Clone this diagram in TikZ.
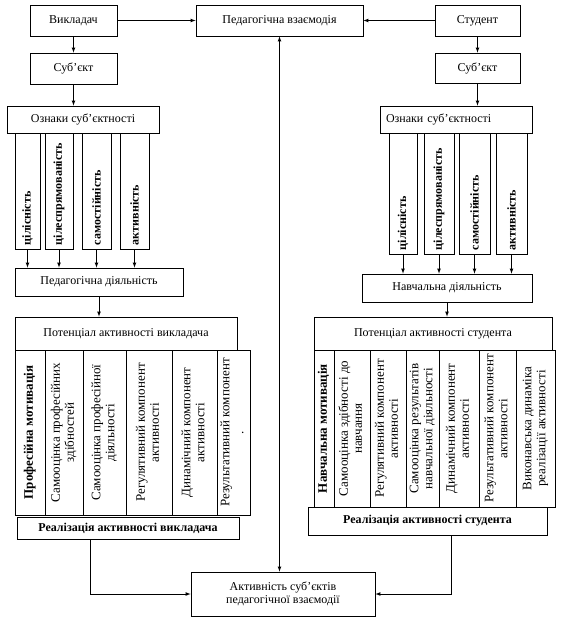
\documentclass[tikz,border=0pt]{standalone}
\usepackage{fontspec}
\setmainfont{Liberation Serif}
\usetikzlibrary{arrows}
\newcommand{\blok}[7][]{
  \node[blok, minimum width={(#5-#3)*1pt}, minimum height={(#6-#4)*1pt}, #1] (#2) at ({(#3+#5)/2},{(#4+#6)/2}) {#7};
}
\newcommand{\vt}[1]{\rotatebox{90}{\fontsize{13}{14}\selectfont\begin{tabular}{@{}c@{}}#1\end{tabular}}}
\newcommand{\vq}[2]{\rotatebox{90}{\makebox[#1pt][l]{\textbf{#2}}}}
\tikzset{
  blok/.style={draw, line width=0.8pt, inner sep=2pt, align=center, font=\fontsize{12}{13}\selectfont},
  kol/.style={inner sep=1pt},
  strilka/.style={-latex, line width=0.7pt}
}

\begin{document}
\begin{tikzpicture}[x=1pt, y=-1pt]
\useasboundingbox (0,0) rectangle (577,621);
% top row
\blok{vykl}{30}{5}{117}{36}{Викладач}
\blok{vzaem}{196}{5}{363}{36}{Педагогічна взаємодія}
\blok{stud}{435}{5}{520}{36}{Студент}
\blok{subL}{30}{53}{117}{84}{Суб’єкт}
\blok{subR}{435}{53}{520}{83}{Суб’єкт}
\blok{oznL}{7}{106}{159}{133}{Ознаки суб’єктності}
\blok[text width=140pt, align=left]{oznR}{380}{106}{532}{133}{Ознаки суб’єктності}
\blok{diyalL}{15}{268}{183}{296}{Педагогічна діяльність}
\blok{diyalR}{362}{274}{532}{302}{Навчальна діяльність}
\draw[strilka] (vykl) -- (vzaem);
\draw[strilka] (stud) -- (vzaem);
\draw[strilka] (vykl) -- (subL);
\draw[strilka] (stud) -- (subR);
\draw[strilka] (subL.south) -- (subL.south |- oznL.north);
\draw[strilka] (subR.south) -- (subR.south |- oznR.north);
% ознаки: left and right
\foreach \n/\xa/\xb/\txt in {1/15/40/цілісність, 2/45/73/цілеспрямованість, 3/82/111/самостійність, 4/120/149/активність} {
  \blok[kol]{qL\n}{\xa}{133}{\xb}{249}{\vq{108}{\txt}}
  \draw[strilka] (qL\n.south) -- (qL\n.south |- diyalL.north);
}
\foreach \n/\xa/\xb/\txt in {1/389/417/цілісність, 2/424/454/цілеспрямованість, 3/459/490/самостійність, 4/496/527/активність} {
  \blok[kol]{qR\n}{\xa}{133}{\xb}{254}{\vq{113}{\txt}}
  \draw[strilka] (qR\n.south) -- (qR\n.south |- diyalR.north);
}
% potential of the teacher
\blok{potL}{15}{317}{237}{350}{Потенціал активності викладача}
\draw[strilka] (diyalL.south) -- (diyalL.south |- potL.north);
\foreach \n/\xa/\xb/\txt in {1/15/45/{\textbf{Професійна мотивація}}, 2/45/83/{Самооцінка професійних\\здібностей}, 3/83/126/{Самооцінка професійної\\діяльності}, 4/126/172/{Регулятивний компонент\\активності}, 5/172/217/{Динамічний компонент\\активності}, 6/217/250/{Результативний компонент\\.}} {
  \blok[kol]{kL\n}{\xa}{350}{\xb}{515}{\vt{\txt}}
}
\blok{realL}{17}{517}{239}{539}{\textbf{Реалізація активності викладача}}
% potential of the student
\blok{potR}{314}{317}{552}{350}{Потенціал активності студента}
\draw[strilka] (diyalR.south) -- (diyalR.south |- potR.north);
\foreach \n/\xa/\xb/\txt in {1/314/334/{\textbf{Навчальна мотивація}}, 2/334/370/{Самооцінка здібності до\\навчання}, 3/370/406/{Регулятивний компонент\\активності}, 4/406/439/{Самооцінка результатів\\навчальної діяльності}, 5/439/479/{Динамічний компонент\\активності}, 6/479/516/{Результативний компонент\\активності}, 7/516/555/{Виконавська динаміка\\реалізації активності}} {
  \blok[kol]{kR\n}{\xa}{350}{\xb}{507}{\vt{\txt}}
}
\blok{realR}{308}{507}{547}{535}{\textbf{Реалізація активності студента}}
% bottom
\blok{aktyv}{191}{572}{375}{616}{Активність суб’єктів\\педагогічної взаємодії}
\draw[strilka] ([xshift=-38pt]realL.south) |- (aktyv.west);
\draw[strilka] ([xshift=24pt]realR.south) |- (aktyv.east);
\draw[strilka, latex-latex] (vzaem.south) -- (vzaem.south |- aktyv.north);
\end{tikzpicture}
\end{document}
